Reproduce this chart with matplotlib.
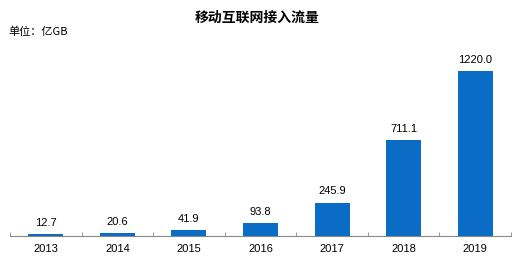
import matplotlib.pyplot as plt
import numpy as np

plt.rcParams['font.family'] = ['Noto Sans CJK SC', 'DejaVu Sans']

years = ['2013', '2014', '2015', '2016', '2017', '2018', '2019']
traffic = [12.7, 20.6, 41.9, 93.8, 245.9, 711.1, 1220.0]

fig = plt.figure(figsize=(5.14, 2.6), dpi=100)
# axes placed to match the reference pixels
ax = fig.add_axes([10 / 514, 1 - 236 / 260, 501 / 514, 186 / 260])

x = np.arange(len(years))
bars = ax.bar(x, traffic, width=0.49, color='#0A6CC4')

for xi, v in zip(x, traffic):
    ax.annotate(f'{v:.1f}', xy=(xi, v), xytext=(0, 4.5), textcoords='offset points',
                ha='center', va='bottom', fontsize=8, family=['Liberation Sans'])

ax.set_xlim(-0.5, len(years) - 0.5)
ax.set_ylim(0, 1375)
ax.set_yticks([])
ax.set_xticks(x)
ax.set_xticklabels(years, fontsize=8, family=['Liberation Sans'])
ax.tick_params(axis='x', length=0, pad=6)
# small tick marks between categories
ax.set_xticks(np.arange(-0.5, len(years)), minor=True)
ax.tick_params(axis='x', which='minor', length=3, direction='in', color='#888888')

for s in ['top', 'right', 'left']:
    ax.spines[s].set_visible(False)
ax.spines['bottom'].set_color('#888888')

fig.text(0.5, 1 - 18 / 260, '移动互联网接入流量', ha='center', va='center',
         fontsize=10, fontweight='bold')
fig.text(8 / 514, 1 - 32 / 260, '单位：亿GB', ha='left', va='center', fontsize=8)

fig.savefig('out.png', dpi=100)
